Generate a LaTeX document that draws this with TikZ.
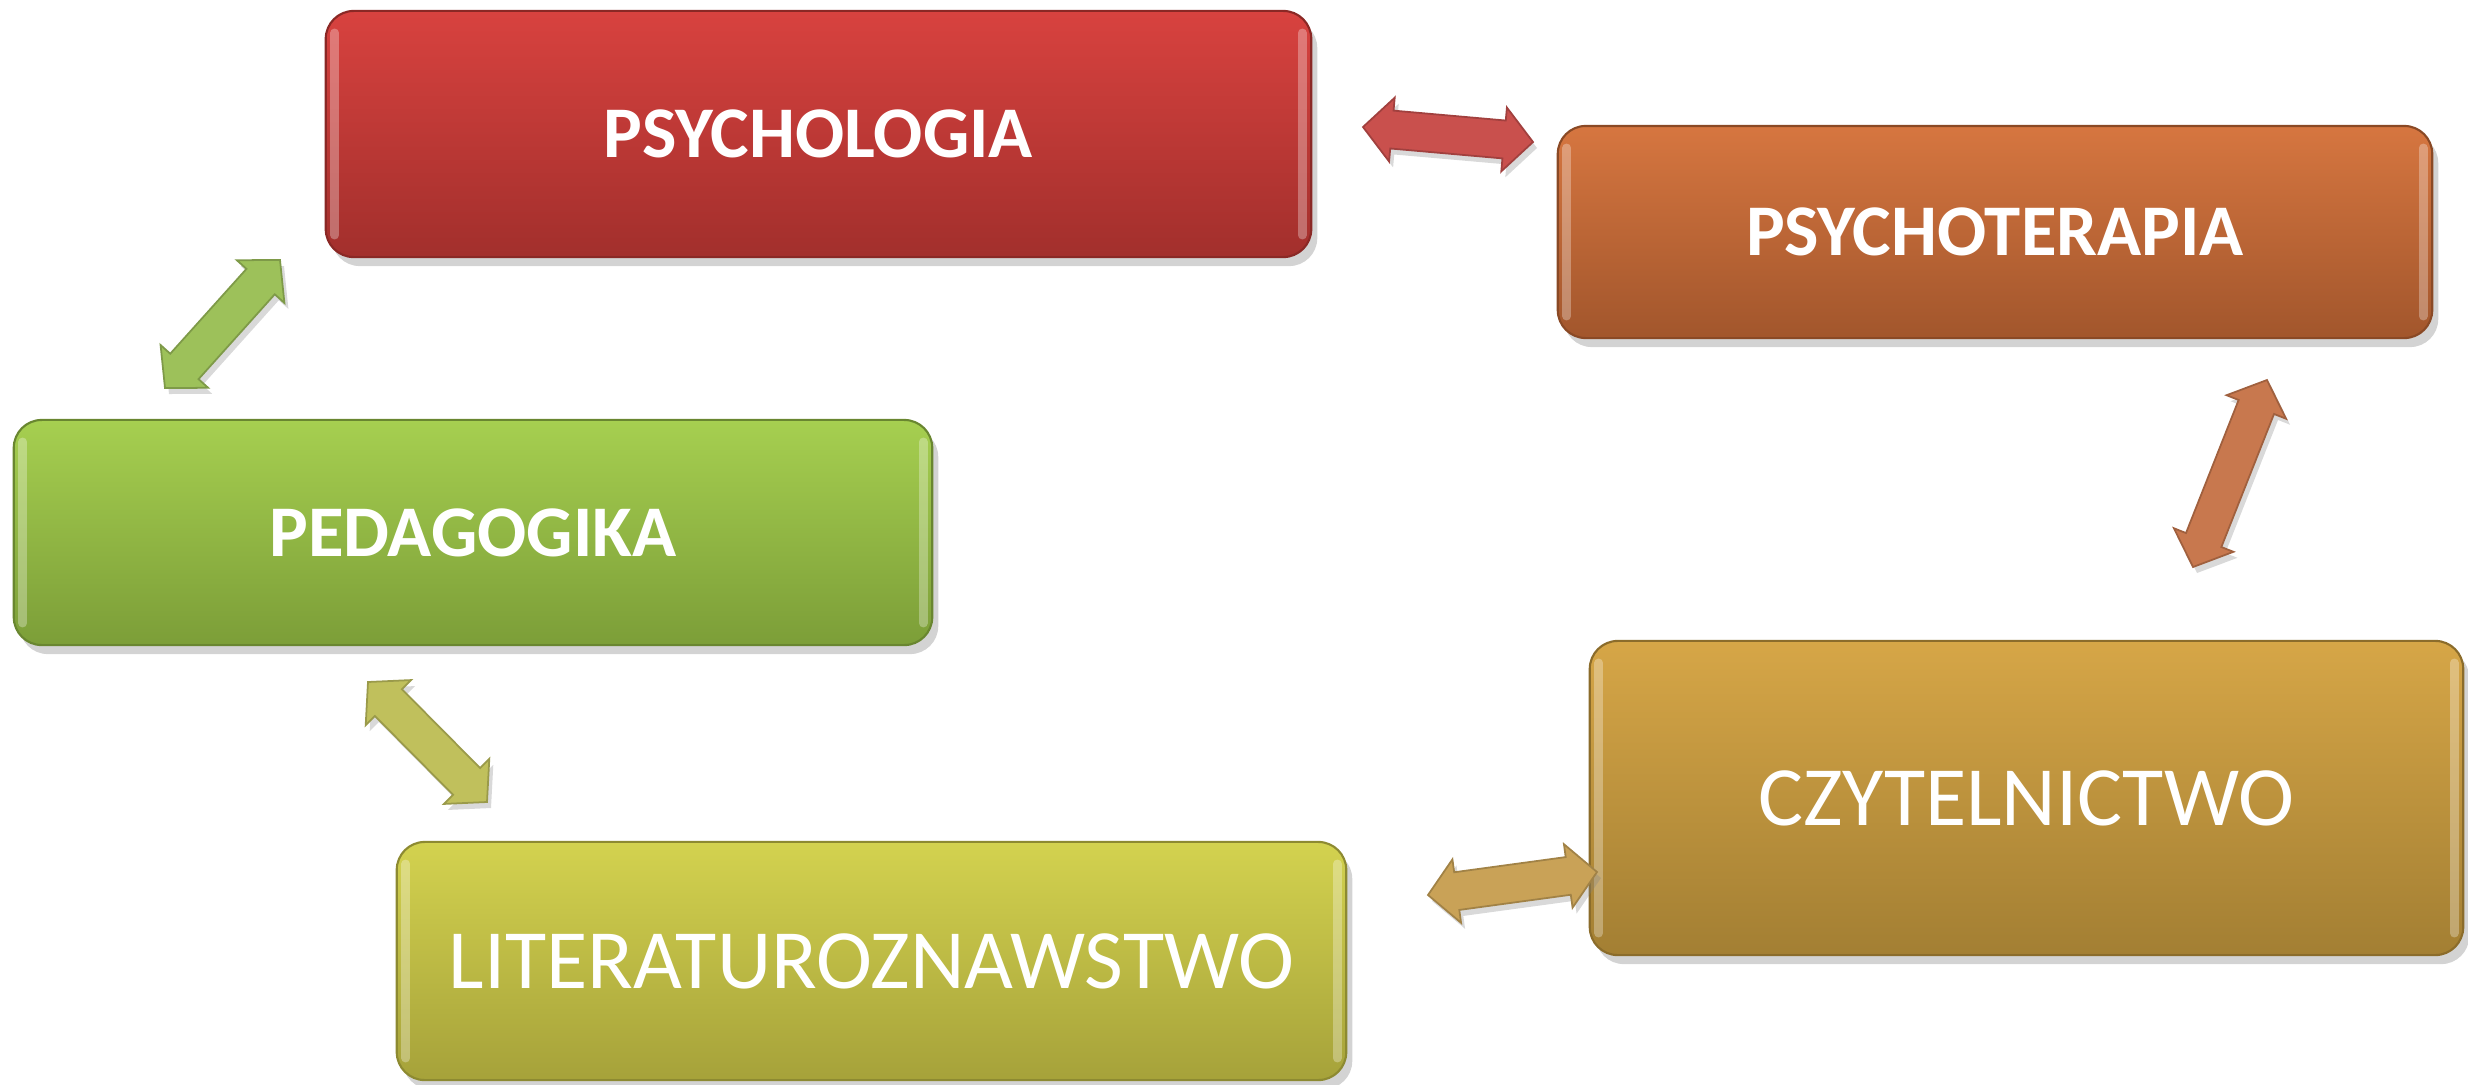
\documentclass[tikz,border=0pt]{standalone}
\usepackage{fontspec}
\setmainfont{Carlito}
\usetikzlibrary{calc,shadows}
\definecolor{redT}{HTML}{D8423F}\definecolor{redB}{HTML}{A22F2C}
\definecolor{oraT}{HTML}{D67640}\definecolor{oraB}{HTML}{A2562C}
\definecolor{grnT}{HTML}{A6CF50}\definecolor{grnB}{HTML}{7C9E38}
\definecolor{golT}{HTML}{D6A647}\definecolor{golB}{HTML}{A37F33}
\definecolor{ylwT}{HTML}{D3D24F}\definecolor{ylwB}{HTML}{A6A23A}
\definecolor{arRed}{HTML}{C9504D}
\definecolor{arGrn}{HTML}{9DC15A}
\definecolor{arYlw}{HTML}{C0C05C}
\definecolor{arOra}{HTML}{C8784E}
\definecolor{arGol}{HTML}{C9A257}
\newcommand\arHL{0.29cm}
\newcommand\arHW{0.32cm}
\newcommand\arSW{0.19cm}
\newcommand\bigdblarrow[3]{%
  \filldraw[fill=#3, draw=#3!80!black, line width=0.5pt, line join=miter,
    drop shadow={opacity=0.3, shadow xshift=0.4mm, shadow yshift=-0.6mm}]
  (#1) -- ($(#1)!\arHL!(#2)!\arHW!90:(#2)$) -- ($(#1)!\arHL!(#2)!\arSW!90:(#2)$)
  -- ($(#2)!\arHL!(#1)!\arSW!-90:(#1)$) -- ($(#2)!\arHL!(#1)!\arHW!-90:(#1)$)
  -- (#2) -- ($(#2)!\arHL!(#1)!\arHW!90:(#1)$) -- ($(#2)!\arHL!(#1)!\arSW!90:(#1)$)
  -- ($(#1)!\arHL!(#2)!\arSW!-90:(#2)$) -- ($(#1)!\arHL!(#2)!\arHW!-90:(#2)$) -- cycle;}
\newcommand\hilite[1]{%
  \draw[white, opacity=0.3, line width=2.5pt, line cap=round]
    ($(#1.south west)+(9,-22)$) -- ($(#1.north west)+(9,22)$)
    ($(#1.south east)+(-9,-22)$) -- ($(#1.north east)+(-9,22)$);}
\begin{document}
\begin{tikzpicture}[x=0.01cm, y=-0.01cm,
  boxbase/.style={rectangle, rounded corners=0.28cm, inner sep=0pt, outer sep=0pt,
    text=white, line width=0.6pt,
    drop shadow={opacity=0.35, shadow xshift=0.6mm, shadow yshift=-0.9mm}},
  boldlbl/.style={font=\fontsize{20.7}{24}\selectfont\bfseries},
  reglbl/.style={font=\fontsize{24}{28}\selectfont}]
\useasboundingbox (0,0) rectangle (2468,1084);

\node[boxbase, boldlbl, top color=redT, bottom color=redB, draw=redB!85!black,
  minimum width=9.85cm, minimum height=2.46cm] (psy) at (818.5,134) {PSYCHOLOGIA};
\node[boxbase, boldlbl, top color=oraT, bottom color=oraB, draw=oraB!85!black,
  minimum width=8.74cm, minimum height=2.12cm] (ter) at (1995,232) {PSYCHOTERAPIA};
\node[boxbase, boldlbl, top color=grnT, bottom color=grnB, draw=grnB!85!black,
  minimum width=9.18cm, minimum height=2.25cm] (ped) at (473,532.5) {PEDAGOGIKA};
\node[boxbase, reglbl, top color=golT, bottom color=golB, draw=golB!85!black,
  minimum width=8.73cm, minimum height=3.14cm] (czy) at (2026.5,798) {CZYTELNICTWO};
\node[boxbase, reglbl, top color=ylwT, bottom color=ylwB, draw=ylwB!85!black,
  minimum width=9.49cm, minimum height=2.38cm] (lit) at (871.5,961) {LITERATUROZNAWSTWO};

\hilite{psy}\hilite{ter}\hilite{ped}\hilite{czy}\hilite{lit}

\coordinate (r1) at (1363,127);  \coordinate (r2) at (1533,142);
\coordinate (g1) at (165,388);   \coordinate (g2) at (280,260);
\coordinate (y1) at (368,682);   \coordinate (y2) at (487,802);
\coordinate (o1) at (2193,567);  \coordinate (o2) at (2267,380);
\coordinate (d1) at (1428,895);  \coordinate (d2) at (1597,872);

\bigdblarrow{r1}{r2}{arRed}
\bigdblarrow{g1}{g2}{arGrn}
\bigdblarrow{y1}{y2}{arYlw}
\bigdblarrow{o1}{o2}{arOra}
\bigdblarrow{d1}{d2}{arGol}
\end{tikzpicture}
\end{document}
